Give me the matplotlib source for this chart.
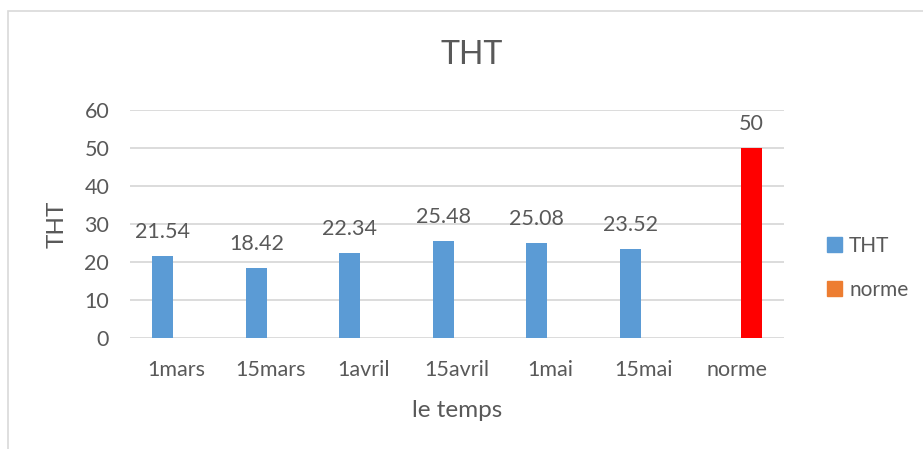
import matplotlib
matplotlib.use("Agg")
import matplotlib.pyplot as plt
from matplotlib.patches import Patch, Rectangle
import numpy as np

categories = ["1mars", "15mars", "1avril", "15avril", "1mai", "15mai", "norme"]
tht_values = [21.54, 18.42, 22.34, 25.48, 25.08, 23.52]
norme_values = [50]
yticks = [0, 10, 20, 30, 40, 50, 60]

W, H = 923, 449
plt.rcParams['font.family'] = ['Lato', 'DejaVu Sans']
txt = '#595959'
fig = plt.figure(figsize=(W / 100, H / 100), dpi=100)
ax = fig.add_axes([130 / W, (H - 338) / H, (784 - 130) / W, (338 - 110) / H])

x = np.arange(len(categories))
bw = 0.225
off = 0.147
b1 = ax.bar(x[:len(tht_values)] - off, tht_values, width=bw, color='#5B9BD5', zorder=3)
b2 = ax.bar(x[len(tht_values):] + off, norme_values, width=bw, color='#FF0000', zorder=3)
ax.bar_label(b1, labels=[f"{v:g}" for v in tht_values], padding=10, fontsize=15.5, color=txt)
ax.bar_label(b2, labels=[f"{v:g}" for v in norme_values], padding=10, fontsize=15.5, color=txt)

ax.set_xlim(-0.5, len(categories) - 0.5)
ax.set_ylim(0, 60)
ax.set_yticks(yticks)
ax.set_xticks(x)
ax.set_xticklabels(categories)
ax.tick_params(axis='both', length=0, labelsize=15.5, labelcolor=txt)
ax.tick_params(axis='x', pad=16)
ax.tick_params(axis='y', pad=15)
for s in ax.spines.values():
    s.set_visible(False)
ax.yaxis.grid(True, color='#D9D9D9', linewidth=1.3, zorder=0)
ax.set_axisbelow(True)

ax.set_ylabel("THT", fontsize=17.5, color=txt, labelpad=12)
ax.set_xlabel("le temps", fontsize=17.5, color=txt, labelpad=14)
fig.text(472 / W, 1 - 55 / H, "THT", fontsize=23, color=txt, ha='center', va='center')

handles = [Patch(color='#5B9BD5'), Patch(color='#ED7D31')]
fig.legend(handles, ["THT", "norme"], loc='center left',
           bbox_to_anchor=(808 / W, 1 - 268 / H), frameon=False, fontsize=15,
           labelcolor=txt, handlelength=0.72, handleheight=0.72, handletextpad=0.35,
           labelspacing=1.15)

fig.add_artist(Rectangle((8 / W, -0.1), 1.2, 1 - 11 / H + 0.1, transform=fig.transFigure,
                         fill=False, edgecolor='#D9D9D9', linewidth=1.2))

fig.savefig("out.png", dpi=100)
